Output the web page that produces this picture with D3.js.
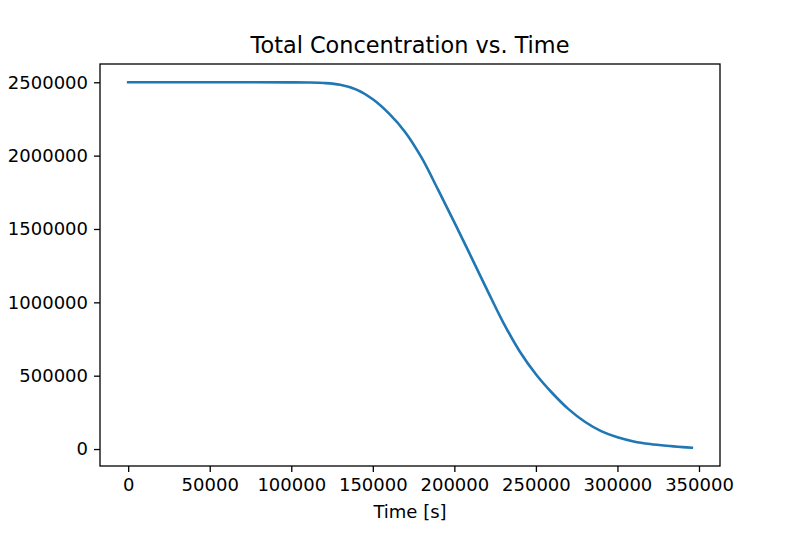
<!DOCTYPE html>
<html>
<head>
<meta charset="utf-8">
<script src="https://cdn.jsdelivr.net/npm/d3@7"></script>
<style>
  html, body { margin: 0; padding: 0; background: #fff; }
  svg { display: block; }
  text { font-family: "DejaVu Sans", sans-serif; fill: #000; }
</style>
</head>
<body>
<svg id="chart" width="800" height="533"></svg>
<script>
// ---- data ----
const timeSeconds = [0, 50000, 100000, 110000, 120000, 130000, 140000, 150000, 160000, 170000,
  180000, 190000, 200000, 210000, 220000, 230000, 240000, 250000, 260000, 270000,
  280000, 290000, 300000, 310000, 320000, 330000, 340000, 345600];
const totalConcentration = [2500000, 2500000, 2499500, 2498500, 2495000, 2483000, 2450000, 2384000, 2286000, 2158000,
  1984000, 1768000, 1545000, 1317000, 1087000, 862000, 667000, 510000, 382000, 272000,
  186000, 122000, 80000, 52000, 34000, 22000, 13000, 9000];
const xTickValues = [0, 50000, 100000, 150000, 200000, 250000, 300000, 350000];
const yTickValues = [0, 500000, 1000000, 1500000, 2000000, 2500000];
const titleText = "Total Concentration vs. Time";
const xLabelText = "Time [s]";

// ---- layout ----
const svg = d3.select("#chart");
const plotLeft = 100, plotRight = 720, plotTop = 64, plotBottom = 466;

const xMin = d3.min(timeSeconds), xMax = d3.max(timeSeconds);
const yMin = d3.min(totalConcentration), yMax = d3.max(totalConcentration);
const xPad = (xMax - xMin) * 0.05, yPad = (yMax - yMin) * 0.05;

const x = d3.scaleLinear().domain([xMin - xPad, xMax + xPad]).range([plotLeft, plotRight]);
const y = d3.scaleLinear().domain([yMin - yPad, yMax + yPad]).range([plotBottom, plotTop]);

const fontSize = 18;

// x axis
const xAxis = svg.append("g")
  .attr("transform", `translate(0,${plotBottom})`)
  .call(d3.axisBottom(x).tickValues(xTickValues).tickFormat(d3.format("d")).tickSize(6).tickPadding(6));
xAxis.select(".domain").remove();
xAxis.selectAll("line").attr("stroke", "#000").attr("stroke-width", 1.3);
xAxis.selectAll("text").attr("font-size", fontSize).attr("font-family", "DejaVu Sans").attr("fill", "#000");

// y axis
const yAxis = svg.append("g")
  .attr("transform", `translate(${plotLeft},0)`)
  .call(d3.axisLeft(y).tickValues(yTickValues).tickFormat(d3.format("d")).tickSize(6).tickPadding(6));
yAxis.select(".domain").remove();
yAxis.selectAll("line").attr("stroke", "#000").attr("stroke-width", 1.3);
yAxis.selectAll("text").attr("font-size", fontSize).attr("font-family", "DejaVu Sans").attr("fill", "#000");

// line
const line = d3.line()
  .x((d, i) => x(timeSeconds[i]))
  .y(d => y(d))
  .curve(d3.curveCatmullRom.alpha(0.5));

svg.append("path")
  .datum(totalConcentration)
  .attr("d", line)
  .attr("fill", "none")
  .attr("stroke", "#1f77b4")
  .attr("stroke-width", 2.6)
  .attr("stroke-linecap", "square");

// frame
svg.append("rect")
  .attr("x", plotLeft).attr("y", plotTop)
  .attr("width", plotRight - plotLeft).attr("height", plotBottom - plotTop)
  .attr("fill", "none").attr("stroke", "#000").attr("stroke-width", 1.3);

// title
svg.append("text")
  .attr("x", (plotLeft + plotRight) / 2).attr("y", 53)
  .attr("text-anchor", "middle")
  .attr("font-size", 22.4)
  .text(titleText);

// x label
svg.append("text")
  .attr("x", (plotLeft + plotRight) / 2).attr("y", 518)
  .attr("text-anchor", "middle")
  .attr("font-size", fontSize)
  .text(xLabelText);
</script>
</body>
</html>
